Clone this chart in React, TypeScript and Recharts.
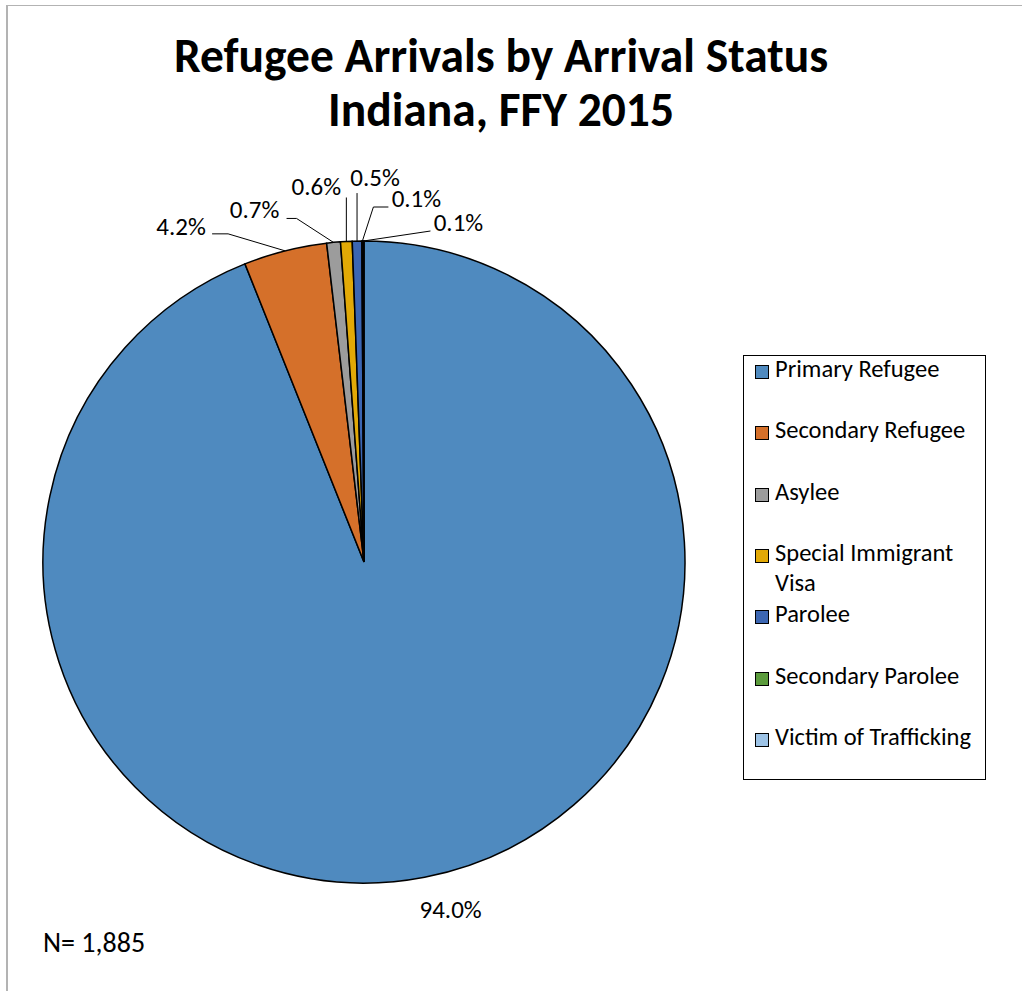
import React from 'react';
import { PieChart, Pie, Cell, Legend } from 'recharts';

const categories = [
  'Primary Refugee',
  'Secondary Refugee',
  'Asylee',
  'Special Immigrant Visa',
  'Parolee',
  'Secondary Parolee',
  'Victim of Trafficking',
];
const arrivals = [1771, 79, 13, 11, 9, 1, 1];
const sliceColors = ['#4F8ABF', '#D5702A', '#9C9C9C', '#E2A906', '#3C66B2', '#5B9B3C', '#9DC3E6'];
const titleLines = ['Refugee Arrivals by Arrival Status', 'Indiana, FFY 2015'];
const totalLabel = 'N= 1,885';

const data = categories.map((name, i) => ({ name, value: arrivals[i] }));

const FONT = "Carlito, Calibri, Lato, 'Noto Sans', sans-serif";

// label placement: text baseline offset and leader-line points, relative to slice edge midpoint
const labelPlacement: { text: [number, number]; line: [number, number][] }[] = [
  { text: [26, 41], line: [] },
  { text: [-104, -16], line: [[-57, -17], [-73, -17]] },
  { text: [-79, -24], line: [[-37, -24], [-47, -24]] },
  { text: [-30, -46], line: [[0, -44]] },
  { text: [18, -55], line: [[0, -48]] },
  { text: [54, -34], line: [[11, -34], [26, -34]] },
  { text: [95, -10], line: [[67, -10]] },
];

const RAD = Math.PI / 180;

const renderLabel = (props: any) => {
  const { cx, cy, midAngle, outerRadius, percent, index } = props;
  const ex = cx + outerRadius * Math.cos(-midAngle * RAD);
  const ey = cy + outerRadius * Math.sin(-midAngle * RAD);
  const p = labelPlacement[index];
  const pts: [number, number][] = [[ex, ey], ...p.line.map(([dx, dy]) => [ex + dx, ey + dy] as [number, number])];
  return (
    <g key={`lbl-${index}`}>
      {p.line.length > 0 && (
        <polyline
          points={pts.map((q) => q.join(',')).join(' ')}
          fill="none"
          stroke="#000"
          strokeWidth={1}
        />
      )}
      <text
        x={ex + p.text[0]}
        y={ey + p.text[1]}
        textAnchor="middle"
        fontSize={25}
        fontFamily={FONT}
        fill="#000"
      >
        {`${(percent * 100).toFixed(1)}%`}
      </text>
    </g>
  );
};

const renderLegend = (props: any) => {
  const payload = [...(props.payload || [])].sort(
    (a: any, b: any) => categories.indexOf(a.value) - categories.indexOf(b.value)
  );
  return (
    <div
      style={{
        position: 'relative',
        width: 243,
        height: 425,
        boxSizing: 'border-box',
        border: '1.5px solid #000',
        background: '#fff',
        fontFamily: FONT,
        fontSize: 24.5,
        color: '#000',
      }}
    >
      {payload.map((entry: any, i: number) => (
        <div
          key={`leg-${i}`}
          style={{ position: 'absolute', left: 0, top: i * 61.3 - 1, width: 243, height: 61 }}
        >
          <div
            style={{
              position: 'absolute',
              left: 11,
              top: 10,
              width: 14,
              height: 14,
              boxSizing: 'border-box',
              border: '1.5px solid #000',
              background: entry.color,
            }}
          />
          <div
            style={{
              position: 'absolute',
              left: 31,
              top: 0,
              width: 206,
              lineHeight: '29.7px',
              textAlign: 'left',
            }}
          >
            {entry.value}
          </div>
        </div>
      ))}
    </div>
  );
};

export default function App() {
  return (
    <div
      style={{
        position: 'absolute',
        left: 0,
        top: 0,
        width: 1022,
        height: 991,
        background: '#fff',
        overflow: 'hidden',
      }}
    >
      <div
        style={{
          position: 'absolute',
          left: 6,
          top: 5,
          width: 1100,
          height: 1100,
          borderLeft: '2px solid #B3B3B3',
          borderTop: '1.5px solid #B3B3B3',
        }}
      />
      <div style={{ position: 'absolute', left: 0, top: 0 }}>
        <PieChart width={1022} height={991} margin={{ top: 0, right: 0, bottom: 0, left: 0 }}>
          <Pie
            data={data}
            dataKey="value"
            nameKey="name"
            cx={364}
            cy={562}
            outerRadius={321}
            startAngle={90}
            endAngle={-270}
            stroke="#000"
            strokeWidth={1.5}
            label={renderLabel}
            labelLine={false}
            isAnimationActive={false}
          >
            {data.map((d, i) => (
              <Cell key={`cell-${i}`} fill={sliceColors[i]} />
            ))}
          </Pie>
          <Legend
            layout="vertical"
            align="right"
            verticalAlign="top"
            content={renderLegend}
            wrapperStyle={{ left: 743, top: 355, width: 243, height: 425, right: 'auto' }}
          />
        </PieChart>
      </div>
      <svg
        width={1022}
        height={991}
        style={{ position: 'absolute', left: 0, top: 0, pointerEvents: 'none' }}
      >
        <text x={501} y={72} textAnchor="middle" fontFamily={FONT} fontWeight="bold" fontSize={47.5} fill="#000">
          {titleLines[0]}
        </text>
        <text x={501} y={126} textAnchor="middle" fontFamily={FONT} fontWeight="bold" fontSize={47.5} fill="#000">
          {titleLines[1]}
        </text>
        <text x={43} y={952} fontFamily={FONT} fontSize={28} fill="#000">
          {totalLabel}
        </text>
      </svg>
    </div>
  );
}
